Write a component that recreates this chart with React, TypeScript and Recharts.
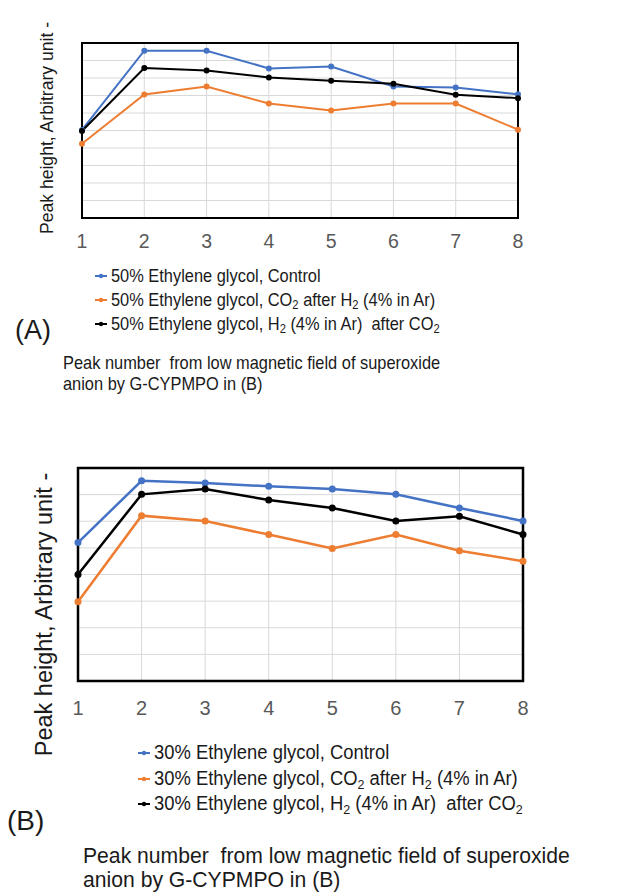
import React from "react";
import { LineChart, Line, XAxis, YAxis, CartesianGrid, Legend, ReferenceArea } from "recharts";

const FONT = '"Liberation Sans", Arial, Helvetica, sans-serif';

const peaks = [1, 2, 3, 4, 5, 6, 7, 8];

// (A) 50% ethylene glycol
const aControl = [5.03, 9.56, 9.56, 8.55, 8.66, 7.51, 7.46, 7.07];
const aCo2AfterH2 = [4.24, 7.06, 7.51, 6.54, 6.14, 6.54, 6.54, 5.05];
const aH2AfterCo2 = [4.97, 8.57, 8.43, 8.03, 7.84, 7.67, 7.04, 6.85];
const aGridTicks = [0, 1, 2, 3, 4, 5, 6, 7, 8, 9, 10];

// (B) 30% ethylene glycol
const bControl = [5.2, 7.52, 7.44, 7.31, 7.21, 7.01, 6.5, 6.01];
const bCo2AfterH2 = [2.98, 6.21, 6.01, 5.5, 4.98, 5.5, 4.89, 4.5];
const bH2AfterCo2 = [4.0, 7.01, 7.21, 6.8, 6.5, 6.01, 6.19, 5.5];
const bGridTicks = [0, 1, 2, 3, 4, 5, 6, 7, 8];

const seriesColors = ["#4472C4", "#ED7D31", "#000000"];
const seriesSuffix = [", Control", ", CO2 after H2 (4% in Ar)", ", H2 (4% in Ar)  after CO2"];
const yLabelText = "Peak height, Arbitrary unit -";
const captionLines = ["Peak number  from low magnetic field of superoxide", "anion by G-CYPMPO in (B)"];

const buildRows = (cols: number[][]) =>
  peaks.map((p, i) => ({ peak: p, s0: cols[0][i], s1: cols[1][i], s2: cols[2][i] }));

// turn CO2 / H2 into subscripted text
const withSubs = (s: string) =>
  s.split(/(CO2|H2)/).map((part, i) =>
    part === "CO2" || part === "H2" ? (
      <span key={i}>
        {part.slice(0, -1)}
        <sub style={{ fontSize: "0.68em", verticalAlign: "-0.28em", lineHeight: 0 }}>2</sub>
      </span>
    ) : (
      <span key={i} style={{ whiteSpace: "pre" }}>{part}</span>
    )
  );

interface PanelProps {
  rows: ReturnType<typeof buildRows>;
  names: string[];
  yMax: number;
  gridTicks: number[];
  height: number;
  margin: { top: number; right: number; bottom: number; left: number };
  tickFont: number;
  tickMargin: number;
  lineW: number;
  dotR: number;
  frameW: number;
  legendTop: number;
  legendLeft: number;
  legendRowH: number;
  legendFont: number;
  legendSqueeze: number;
  yLabel: { x: number; y: number; size: number };
}

const Panel = (p: PanelProps) => {
  const legendContent = () => (
    <div style={{ fontFamily: FONT, fontSize: p.legendFont, color: "#1a1a1a" }}>
      {p.names.map((name, i) => (
        <div key={name} style={{ height: p.legendRowH, lineHeight: `${p.legendRowH}px`, display: "flex", alignItems: "center" }}>
          <svg width={12} height={8} style={{ marginRight: 4, flex: "none" }}>
            <line x1={0} y1={4} x2={12} y2={4} stroke={seriesColors[i]} strokeWidth={2} />
            <circle cx={6} cy={4} r={2.2} fill={seriesColors[i]} />
          </svg>
          <span style={{ whiteSpace: "pre", display: "inline-block", transform: `scaleX(${p.legendSqueeze})`, transformOrigin: "left center" }}>
            {withSubs(name)}
          </span>
        </div>
      ))}
    </div>
  );

  return (
    <LineChart width={629} height={p.height} data={p.rows} margin={p.margin}>
      <CartesianGrid stroke="#d9d9d9" strokeWidth={1} horizontalValues={p.gridTicks} verticalValues={peaks} />
      <XAxis
        dataKey="peak"
        type="number"
        domain={[1, 8]}
        ticks={peaks}
        interval={0}
        axisLine={false}
        tickLine={false}
        tickSize={6}
        tickMargin={p.tickMargin}
        tick={{ fill: "#595959", fontSize: p.tickFont, fontFamily: FONT }}
        height={30}
      />
      <YAxis
        type="number"
        domain={[0, p.yMax]}
        ticks={p.gridTicks}
        interval={0}
        width={1}
        tick={() => <g />}
        axisLine={false}
        tickLine={false}
        label={{
          content: () => (
            <text
              x={p.yLabel.x}
              y={p.yLabel.y}
              transform={`rotate(-90 ${p.yLabel.x} ${p.yLabel.y})`}
              textAnchor="middle"
              fill="#1a1a1a"
              fontSize={p.yLabel.size}
              fontFamily={FONT}
              style={{ whiteSpace: "pre" }}
            >
              {yLabelText}
            </text>
          ),
        }}
      />
      <ReferenceArea x1={1} x2={8} y1={0} y2={p.yMax} fill="none" stroke="#000" strokeWidth={p.frameW} ifOverflow="visible" />
      {["s0", "s1", "s2"].map((k, i) => (
        <Line
          key={k}
          dataKey={k}
          name={p.names[i]}
          type="linear"
          stroke={seriesColors[i]}
          strokeWidth={p.lineW}
          dot={{ r: p.dotR, fill: seriesColors[i], stroke: seriesColors[i], strokeWidth: 0 }}
          isAnimationActive={false}
        />
      ))}
      <Legend
        layout="vertical"
        align="center"
        verticalAlign="middle"
        content={legendContent}
        wrapperStyle={{ left: p.legendLeft, top: p.legendTop, width: 520 }}
      />
    </LineChart>
  );
};

export default function App() {
  const namesA = seriesSuffix.map((s) => "50% Ethylene glycol" + s);
  const namesB = seriesSuffix.map((s) => "30% Ethylene glycol" + s);
  return (
    <div style={{ position: "absolute", left: 0, top: 0, width: 629, height: 892, background: "#fff", fontFamily: FONT, overflow: "hidden" }}>
      <div style={{ position: "absolute", left: 0, top: 0 }}>
        <Panel
          rows={buildRows([aControl, aCo2AfterH2, aH2AfterCo2])}
          names={namesA}
          yMax={10}
          gridTicks={aGridTicks}
          height={440}
          margin={{ top: 43, right: 111, bottom: 192, left: 81 }}
          tickFont={19.5}
          tickMargin={10}
          lineW={2}
          dotR={3}
          frameW={2}
          legendTop={263.7}
          legendLeft={95}
          legendRowH={24.3}
          legendFont={17.7}
          legendSqueeze={0.927}
          yLabel={{ x: 52.5, y: 128, size: 17.6 }}
        />
      </div>
      <div style={{ position: "absolute", left: 0, top: 440 }}>
        <Panel
          rows={buildRows([bControl, bCo2AfterH2, bH2AfterCo2])}
          names={namesB}
          yMax={8}
          gridTicks={bGridTicks}
          height={452}
          margin={{ top: 28, right: 106, bottom: 181, left: 77 }}
          tickFont={20}
          tickMargin={14}
          lineW={2.5}
          dotR={3.5}
          frameW={2.5}
          legendTop={299.9}
          legendLeft={138}
          legendRowH={25.8}
          legendFont={20}
          legendSqueeze={0.92}
          yLabel={{ x: 52, y: 174.5, size: 23.5 }}
        />
      </div>
      <div style={{ position: "absolute", left: 15, top: 313, fontSize: 27, lineHeight: "34px", color: "#1a1a1a" }}>(A)</div>
      <div style={{ position: "absolute", left: 7, top: 803, fontSize: 28, lineHeight: "36px", color: "#1a1a1a" }}>(B)</div>
      <div
        style={{
          position: "absolute", left: 63, top: 351.5, fontSize: 18.5, lineHeight: "21.6px", color: "#1a1a1a",
          whiteSpace: "pre", transform: "scaleX(0.886)", transformOrigin: "left top",
        }}
      >
        {captionLines.join("\n")}
      </div>
      <div
        style={{
          position: "absolute", left: 83, top: 844, fontSize: 22.5, lineHeight: "23.5px", color: "#1a1a1a",
          whiteSpace: "pre", transform: "scaleX(0.94)", transformOrigin: "left top",
        }}
      >
        {captionLines.join("\n")}
      </div>
    </div>
  );
}
